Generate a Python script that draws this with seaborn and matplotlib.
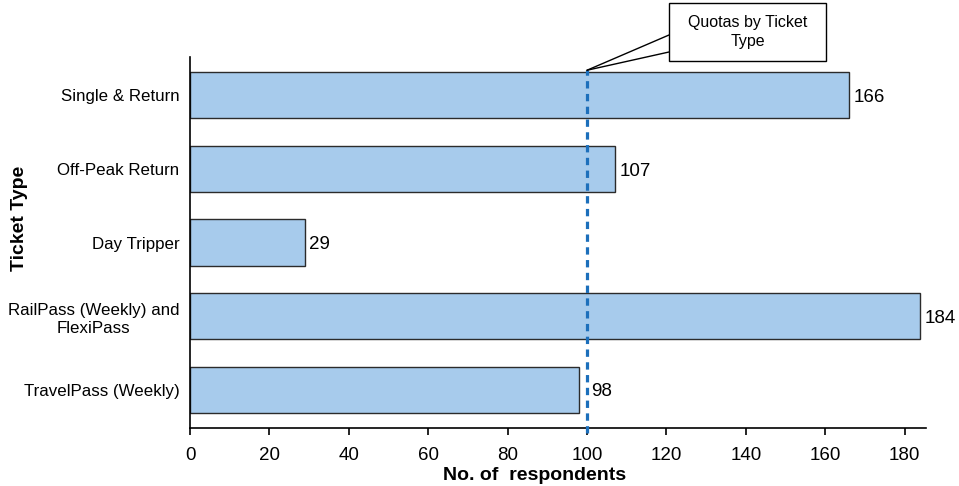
import matplotlib
matplotlib.use("Agg")
import matplotlib.pyplot as plt
from matplotlib.patches import Rectangle
from matplotlib.lines import Line2D
import seaborn as sns
import pandas as pd

# Survey respondents per ticket type
ticket_types = [
    "Single & Return",
    "Off-Peak Return",
    "Day Tripper",
    "RailPass (Weekly) and\nFlexiPass",
    "TravelPass (Weekly)",
]
respondents = [166, 107, 29, 184, 98]
quota = 100
x_ticks = [0, 20, 40, 60, 80, 100, 120, 140, 160, 180]

df = pd.DataFrame({"Ticket Type": ticket_types, "Respondents": respondents})

sns.set_theme(style="white")
plt.rcParams["font.family"] = ["Liberation Sans", "DejaVu Sans"]
plt.rcParams["text.color"] = "black"
plt.rcParams["axes.labelcolor"] = "black"
plt.rcParams["xtick.color"] = "black"
plt.rcParams["ytick.color"] = "black"

fig = plt.figure(figsize=(9.59, 4.86), dpi=100)
ax = fig.add_axes([190 / 959, 1 - 428 / 486, 736 / 959, 371 / 486])

sns.barplot(
    data=df, x="Respondents", y="Ticket Type", orient="h", ax=ax,
    color="#A7CBEC", saturation=1, width=0.63,
    edgecolor="#2b2b2b", linewidth=1.0,
)

ax.set_xlim(0, 185.4)
ax.set_ylim(4.52, -0.52)
ax.set_xticks(x_ticks)
ax.tick_params(axis="x", direction="out", length=5, width=1.2, colors="black",
               labelsize=13.5, pad=9, bottom=True)
ax.tick_params(axis="y", length=0, labelsize=12.2, pad=7.5, colors="black")
for lbl in ax.get_yticklabels():
    lbl.set_multialignment("center")
    lbl.set_linespacing(1.3)

for side in ("top", "right"):
    ax.spines[side].set_visible(False)
for side in ("left", "bottom"):
    ax.spines[side].set_color("black")
    ax.spines[side].set_linewidth(1.2)

# Value labels at bar ends; labels that would sit on the quota line move past it
for i, v in enumerate(respondents):
    x = v + 1.1
    if v < quota < x + 8:
        x = quota + 1.0
    ax.text(x, i + 0.03, str(v), va="center", ha="left", fontsize=13.5, color="black")

# Quota reference line
ax.axvline(quota, ymin=-0.014, ymax=0.966, color="#1C6FBB", linewidth=2.3,
           dashes=(2.3, 1.7), clip_on=False, zorder=5)

ax.set_xlabel("No. of  respondents", fontsize=14, fontweight="bold", color="black")
ax.xaxis.set_label_coords(0.468, -0.128)
ax.xaxis.label.set_va("center")
ax.set_ylabel("Ticket Type", fontsize=14, fontweight="bold", color="black")
ax.yaxis.set_label_coords(-0.231, 0.566)
ax.yaxis.label.set_va("center")

# Callout for the quota line
tip = fig.transFigure.inverted().transform(ax.transData.transform((quota, -0.34)))
W, H = 959, 486
box_x0, box_x1, box_y0, box_y1 = 669, 826, 3, 61
fig.add_artist(Line2D([tip[0], box_x0 / W], [tip[1], 1 - 35 / H],
                      transform=fig.transFigure, color="black", linewidth=1.0))
fig.add_artist(Line2D([tip[0], box_x0 / W], [tip[1], 1 - 52 / H],
                      transform=fig.transFigure, color="black", linewidth=1.0))
fig.add_artist(Rectangle((box_x0 / W, 1 - box_y1 / H), (box_x1 - box_x0) / W,
                         (box_y1 - box_y0) / H, transform=fig.transFigure,
                         facecolor="white", edgecolor="black", linewidth=1.0))
fig.text((box_x0 + box_x1) / 2 / W, 1 - (box_y0 + box_y1) / 2 / H,
         "Quotas by Ticket\nType", ha="center", va="center", fontsize=11.5,
         linespacing=1.35, color="black")

fig.savefig("out.png", dpi=100)
